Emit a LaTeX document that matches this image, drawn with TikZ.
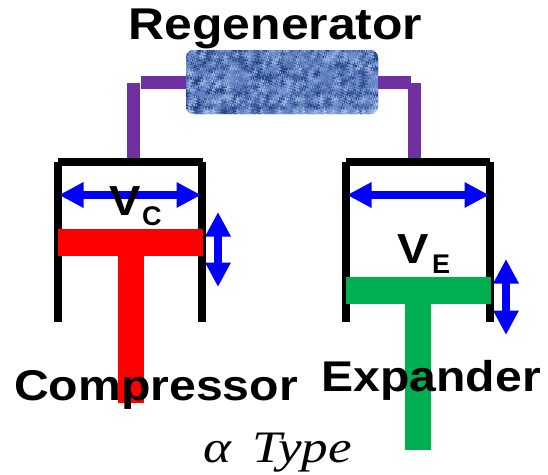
\documentclass[tikz,border=0pt]{standalone}
\usepackage{fontspec}
\setsansfont{Liberation Sans}[FakeStretch=1.12]
\setmainfont{Liberation Serif}[FakeStretch=1.18]
\newfontfamily\subfont{Liberation Sans}
\usepackage{xcolor}
\usetikzlibrary{arrows.meta,positioning}
\definecolor{pipepurple}{HTML}{7030A0}
\definecolor{expgreen}{HTML}{00B050}
\definecolor{regenbase}{HTML}{6485C6}
\definecolor{regendark}{HTML}{1B3875}
\definecolor{regenlight}{HTML}{B4CBF2}
\begin{document}
\begin{tikzpicture}[
x=1pt,y=-1pt,
wall/.style={line width=8pt},
pipe/.style={line width=13pt,pipepurple},
gauge/.style={line width=8pt,blue,{Triangle[length=24.5pt,width=24pt]}-{Triangle[length=24.5pt,width=24pt]}},
piston/.style={minimum width=145pt,minimum height=27pt,inner sep=0pt},
rod/.style={minimum width=26pt,inner sep=0pt},
partname/.style={inner sep=0pt,font=\sffamily\bfseries\fontsize{43}{45}\selectfont},
vol/.style={inner sep=0pt,font=\sffamily\bfseries\fontsize{42}{44}\selectfont},
volsub/.style={inner sep=0pt,font=\subfont\bfseries\fontsize{27}{29}\selectfont},
regen/.style={minimum width=192pt,minimum height=64pt,inner sep=0pt,rounded corners=8pt,fill=regenbase}
]
\useasboundingbox (0,0) rectangle (548,474);
% regenerator with its mottled fill
\node[regen,path picture={
  \pgfmathsetseed{7}
  \foreach \i in {0,...,63}{
    \foreach \j in {0,...,21}{
      \pgfmathsetmacro{\tone}{rnd*100-(mod(\i,4)==0 ? 18 : 0)-(mod(\j,5)==0 ? 14 : 0)}
      \pgfmathsetmacro{\mix}{\tone<36 ? min(100,100*(1-\tone/36)) : 0}
      \pgfmathsetmacro{\lite}{\tone>56 ? min(100,(\tone-56)*2.4) : 0}
      \colorlet{cellcolor}{regendark!\mix!regenbase}
      \colorlet{cellcolor}{regenlight!\lite!cellcolor}
      \fill[cellcolor]
        ([xshift=\i*3pt,yshift=-\j*3pt]path picture bounding box.north west) rectangle ++(3.3pt,3.3pt);
    }
  }
}] (regenerator) at (282,82) {};
\node[partname,font=\sffamily\bfseries\fontsize{44.5}{46}\selectfont,anchor=base] (regenlabel) at (275.5,39) {Regenerator};
% pipes
\coordinate (cpipe) at (133.5,82.5);
\coordinate (epipe) at (414.5,82.5);
\coordinate (ctop) at (133.5,162);
\coordinate (etop) at (414.5,162);
\draw[pipe] (regenerator.west|-cpipe) -- ([xshift=7pt]cpipe);
\draw[pipe] (regenerator.east|-epipe) -- ([xshift=-4pt]epipe);
\draw[pipe] (cpipe) -- (ctop);
\draw[pipe] (epipe) -- (etop);
% compressor
\draw[wall] (58,162) -- (203,162);
\draw[wall] (58,162) -- (58,322);
\draw[wall] (202,162) -- (202,322);
\coordinate (cleft) at (59,195);
\coordinate (cright) at (201,195);
\draw[gauge] (cleft) -- (cright);
\node[piston,fill=red] (cbar) at (130.5,242.5) {};
\node[rod,fill=red,minimum height=147pt,anchor=north] (crod) at (cbar.south) {};
\coordinate (cup) at (218,212);
\coordinate (cdown) at (218,287);
\draw[gauge] (cup) -- (cdown);
\node[vol,anchor=base] (vc) at (125.5,215) {V};
\node[volsub,anchor=base west] (vcsub) at (142,225) {C};
\node[partname,anchor=base] (complabel) at (156,400) {Compressor};
% expander
\draw[wall] (346,162) -- (490,162);
\draw[wall] (346,162) -- (346,322);
\draw[wall] (490,162) -- (490,322);
\coordinate (eleft) at (347,195);
\coordinate (eright) at (489,195);
\draw[gauge] (eleft) -- (eright);
\node[piston,fill=expgreen] (ebar) at (418,290.5) {};
\node[rod,fill=expgreen,minimum height=146pt,anchor=north] (erod) at (ebar.south) {};
\coordinate (eup) at (506,259);
\coordinate (edown) at (506,335);
\draw[gauge] (eup) -- (edown);
\node[vol,anchor=base] (ve) at (413.5,263) {V};
\node[volsub,anchor=base west] (vesub) at (432,273) {E};
\node[partname,anchor=base] (explabel) at (431,391) {Expander};
% caption
\node[inner sep=0pt,anchor=base,font=\itshape\fontsize{45}{47}\selectfont] (caption) at (277.5,462) {α\hspace{8pt} Type};
\end{tikzpicture}
\end{document}
